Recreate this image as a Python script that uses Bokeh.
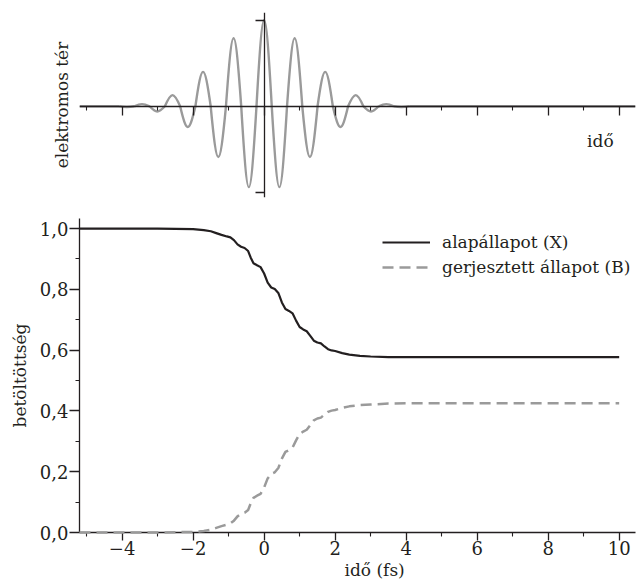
from math import pi

from bokeh.plotting import figure
from bokeh.layouts import column
from bokeh.models import (Range1d, FixedTicker, LinearAxis, CustomJSTickFormatter,
                          Label, Legend, LegendItem, Title)
from bokeh.embed import file_html
from bokeh.resources import INLINE

# ---------------- data ----------------
# lower panel: populations vs time (fs)
time_X = [-5.2, -3.0, -2.5, -2.0, -1.7, -1.5, -1.35, -1.2, -1.05, -0.95, -0.85, -0.75,
          -0.65, -0.55, -0.45, -0.38, -0.3, -0.2, -0.1, 0.0, 0.1, 0.2, 0.3, 0.4, 0.5,
          0.6, 0.7, 0.8, 0.9, 1.0, 1.1, 1.2, 1.3, 1.4, 1.5, 1.6, 1.7, 1.8, 1.9, 2.0,
          2.2, 2.4, 2.7, 3.0, 3.5, 4.0, 10.0]
ground_X = [1.0, 1.0, 0.999, 0.998, 0.995, 0.991, 0.985, 0.979, 0.974, 0.971, 0.962, 0.948,
            0.940, 0.936, 0.926, 0.905, 0.886, 0.879, 0.873, 0.852, 0.822, 0.806, 0.801, 0.788,
            0.757, 0.735, 0.729, 0.721, 0.697, 0.676, 0.668, 0.662, 0.647, 0.631, 0.625, 0.622,
            0.612, 0.603, 0.599, 0.597, 0.590, 0.585, 0.581, 0.579, 0.577, 0.577, 0.577]

time_B = [-5.2, -3.0, -2.5, -2.0, -1.7, -1.5, -1.35, -1.2, -1.05, -0.95, -0.85, -0.75,
          -0.65, -0.55, -0.45, -0.38, -0.3, -0.2, -0.1, 0.0, 0.1, 0.2, 0.3, 0.4, 0.5,
          0.6, 0.7, 0.8, 0.9, 1.0, 1.1, 1.2, 1.3, 1.4, 1.5, 1.6, 1.7, 1.8, 1.9, 2.0,
          2.2, 2.4, 2.7, 3.0, 3.5, 4.0, 10.0]
excited_B = [0.0, 0.0, 0.001, 0.002, 0.005, 0.009, 0.015, 0.021, 0.026, 0.030, 0.039, 0.053,
             0.061, 0.065, 0.074, 0.095, 0.114, 0.121, 0.127, 0.148, 0.178, 0.193, 0.198, 0.212,
             0.243, 0.265, 0.271, 0.279, 0.303, 0.324, 0.332, 0.338, 0.353, 0.369, 0.375, 0.378,
             0.388, 0.397, 0.401, 0.403, 0.410, 0.415, 0.419, 0.421, 0.424, 0.425, 0.425]

# upper panel: electric field, extrema of each half cycle (time, field)
field_peak_t = [-3.87, -3.44, -3.01, -2.58, -2.15, -1.72, -1.29, -0.86, -0.43, 0.0,
                0.43, 0.86, 1.29, 1.72, 2.15, 2.58, 3.01, 3.44, 3.87]
field_peak_E = [-0.01, 0.025, -0.06, 0.13, -0.24, 0.40, -0.59, 0.79, -0.94, 1.0,
                -0.94, 0.79, -0.59, 0.40, -0.24, 0.13, -0.06, 0.025, -0.01]

# ticks
x_ticks = [-4, -2, 0, 2, 4, 6, 8, 10]
x_minor_ticks = [-5, -3, -1, 1, 3, 5, 7, 9]
y_ticks = [0.0, 0.2, 0.4, 0.6, 0.8, 1.0]
y_minor_ticks = [0.1, 0.3, 0.5, 0.7, 0.9]
field_ticks = [-1, 1]

# ---------------- styling ----------------
FONT = "DejaVu Serif"
TXT = "17px"
TICK_TXT = "18px"
INK = "#231f20"
GRAY = "#9a9a9a"
T_MIN, T_MAX = -5.2, 10.46
W = 636

blank = CustomJSTickFormatter(code='return "";')
minus_fmt = CustomJSTickFormatter(code='return tick < 0 ? "\\u2212" + (-tick) : String(tick);')
comma_fmt = CustomJSTickFormatter(code='return tick.toFixed(1).replace(".", ",");')

# ---------------- upper panel ----------------
top = figure(width=W, height=210, x_range=Range1d(T_MIN, T_MAX), y_range=Range1d(-1.06, 1.09),
             output_backend="svg", toolbar_location=None,
             min_border_left=79, min_border_right=1, min_border_top=12, min_border_bottom=13)
top.outline_line_color = None
top.grid.visible = False
top.background_fill_color = "white"

xa = top.xaxis[0]
xa.fixed_location = 0
xa.ticker = FixedTicker(ticks=x_ticks, minor_ticks=x_minor_ticks)
xa.formatter = blank
xa.major_label_text_font_size = "0px"
xa.major_label_standoff = 0
xa.major_tick_out = 9
xa.major_tick_in = 0
xa.minor_tick_out = 4
xa.minor_tick_in = 0
xa.axis_line_color = INK
xa.major_tick_line_color = INK
xa.minor_tick_line_color = INK
xa.axis_line_width = 1.3
xa.major_tick_line_width = 1.3
xa.minor_tick_line_width = 1.1

ya = top.yaxis[0]
ya.ticker = FixedTicker(ticks=[])
ya.formatter = blank
ya.major_label_text_font_size = "0px"
ya.major_label_standoff = 0
ya.major_tick_out = 0
ya.major_tick_in = 0
ya.minor_tick_out = 0
ya.minor_tick_in = 0
ya.axis_line_color = None
ya.major_tick_line_color = None
ya.minor_tick_line_color = None
ya.axis_label = "elektromos tér"
ya.axis_label_text_font = FONT
ya.axis_label_text_font_size = TXT
ya.axis_label_text_font_style = "normal"
ya.axis_label_text_color = INK
ya.axis_label_standoff = 8

yfix = LinearAxis(fixed_location=0, ticker=FixedTicker(ticks=field_ticks), formatter=blank,
                  major_label_text_font_size="0px", major_label_standoff=0,
                  major_tick_out=9, major_tick_in=0, minor_tick_out=0, minor_tick_in=0,
                  axis_line_color=INK, major_tick_line_color=INK, minor_tick_line_color=None,
                  axis_line_width=1.3, major_tick_line_width=1.3)
top.add_layout(yfix, "left")

# field drawn as smooth half-cycle lobes through the read extrema
n = len(field_peak_t)
edges = ([field_peak_t[0] - (field_peak_t[1] - field_peak_t[0]) / 2]
         + [(a + b) / 2 for a, b in zip(field_peak_t[:-1], field_peak_t[1:])]
         + [field_peak_t[-1] + (field_peak_t[-1] - field_peak_t[-2]) / 2])
K = 4 / (3 * pi)
lx0 = edges[:-1]
lx1 = edges[1:]
cx0 = [a + K * (b - a) for a, b in zip(lx0, lx1)]
cx1 = [b - K * (b - a) for a, b in zip(lx0, lx1)]
cy = [4.0 / 3.0 * e for e in field_peak_E]
zeros = [0.0] * n
top.bezier(x0=lx0, y0=zeros, x1=lx1, y1=zeros, cx0=cx0, cy0=cy, cx1=cx1, cy1=cy,
           line_color=GRAY, line_width=2.4)
top.line([T_MIN, edges[0]], [0, 0], line_color=GRAY, line_width=2.4)
top.line([edges[-1], T_MAX], [0, 0], line_color=GRAY, line_width=2.4)

top.add_layout(Label(x=9.47, y=-0.40, text="idő", text_font=FONT, text_font_size=TXT,
                     text_color=INK, text_align="center", text_baseline="middle"))

# ---------------- lower panel ----------------
bot = figure(width=W, height=373, x_range=Range1d(T_MIN, T_MAX), y_range=Range1d(0, 1.033),
             output_backend="svg", toolbar_location=None,
             min_border_left=79, min_border_right=1, min_border_top=8, min_border_bottom=51)
bot.outline_line_color = None
bot.grid.visible = False

bx = bot.xaxis[0]
bx.ticker = FixedTicker(ticks=x_ticks, minor_ticks=x_minor_ticks)
bx.formatter = minus_fmt
bx.major_tick_out = 8
bx.major_tick_in = 0
bx.minor_tick_out = 4
bx.minor_tick_in = 0
bx.major_label_standoff = 0
bx.major_label_text_font = FONT
bx.major_label_text_font_size = TICK_TXT
bx.major_label_text_color = INK

# x-axis title, placed slightly right of centre as in the reference
x_title = Title(text="idő (fs)", align="left", offset=265, standoff=0,
                text_font=FONT, text_font_size=TXT, text_font_style="normal",
                text_color=INK)
bot.add_layout(x_title, "below")

by = bot.yaxis[0]
by.ticker = FixedTicker(ticks=y_ticks, minor_ticks=y_minor_ticks)
by.formatter = comma_fmt
by.major_tick_out = 10
by.major_tick_in = 0
by.minor_tick_out = 4
by.minor_tick_in = 0
by.major_label_standoff = 1
by.major_label_text_font = FONT
by.major_label_text_font_size = TICK_TXT
by.major_label_text_color = INK
by.axis_label = "betöltöttség"
by.axis_label_text_font = FONT
by.axis_label_text_font_size = TXT
by.axis_label_text_font_style = "normal"
by.axis_label_text_color = INK
by.axis_label_standoff = 7

for ax in (bx, by):
    ax.axis_line_color = INK
    ax.major_tick_line_color = INK
    ax.minor_tick_line_color = INK
    ax.axis_line_width = 1.3
    ax.major_tick_line_width = 1.3
    ax.minor_tick_line_width = 1.1

r_x = bot.line(time_X, ground_X, line_color=INK, line_width=2.2, level="overlay")
r_b = bot.line(time_B, excited_B, line_color=GRAY, line_width=2.5, line_dash="11 6",
               level="overlay")

legend = Legend(items=[LegendItem(label="alapállapot (X)", renderers=[r_x]),
                       LegendItem(label="gerjesztett állapot (B)", renderers=[r_b])],
                location=(303, 255), margin=0, padding=0, spacing=5,
                glyph_width=48, glyph_height=20, label_height=20, label_standoff=12,
                label_text_font=FONT, label_text_font_size=TXT, label_text_color=INK,
                border_line_color=None, background_fill_alpha=0)
bot.add_layout(legend)

layout = column(top, bot, spacing=0)

with open("out.html", "w", encoding="utf-8") as f:
    f.write(file_html(layout, INLINE, title="populáció"))
